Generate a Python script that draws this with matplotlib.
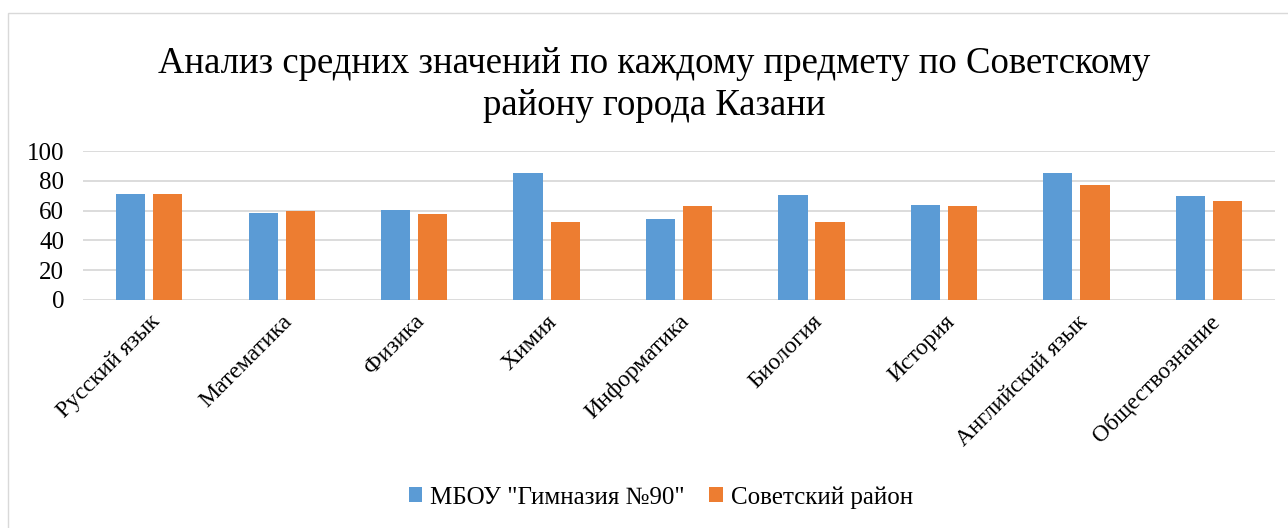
import numpy as np
import matplotlib.pyplot as plt
from matplotlib.patches import Rectangle

# data
subjects = ["Русский язык", "Математика", "Физика", "Химия", "Информатика",
            "Биология", "История", "Английский язык", "Обществознание"]
school = [71.0, 58.7, 60.4, 84.9, 54.6, 70.6, 63.8, 85.4, 70.1]
district = [70.8, 59.6, 57.5, 52.1, 62.9, 52.6, 62.9, 77.1, 66.1]
series_names = ['МБОУ "Гимназия №90"', "Советский район"]

plt.rcParams['font.family'] = ['Liberation Serif', 'DejaVu Serif']

fig = plt.figure(figsize=(12.88, 5.28), dpi=100)
ax = fig.add_axes([0.0644, 0.432, 0.9256, 0.282])

# chart frame
fig.patches.append(Rectangle((8 / 1288, -0.01), 1.2, 1 - 13 / 528 + 0.01,
                             transform=fig.transFigure, fill=False,
                             edgecolor="#d9d9d9", linewidth=1))

x = np.arange(len(subjects))
w = 0.22
ax.bar(x - 0.14, school, w, color="#5b9bd5", label=series_names[0], zorder=3)
ax.bar(x + 0.14, district, w, color="#ed7d31", label=series_names[1], zorder=3)

ax.set_xlim(-0.5, len(subjects) - 0.5)
ax.set_ylim(0, 100)
ax.set_yticks(range(0, 101, 20))
ax.grid(axis="y", color="#d9d9d9", linewidth=1.3, zorder=0)
for s in ax.spines.values():
    s.set_visible(False)
ax.tick_params(length=0, labelsize=18)
ax.tick_params(axis="y", pad=13.5)
ax.set_xticks(x)
ax.set_xticklabels(subjects, rotation=45, ha="right", rotation_mode="anchor", fontsize=17)
ax.tick_params(axis="x", pad=8)

fig.text(0.508, 0.84, "Анализ средних значений по каждому предмету по Советскому\nрайону города Казани",
         ha="center", va="center", fontsize=26.5, linespacing=1.3)

fig.legend(loc="center", bbox_to_anchor=(0.513, 0.058), ncol=2, frameon=False,
           fontsize=18, handlelength=0.55, handleheight=0.55, columnspacing=1.0,
           handletextpad=0.3)

fig.savefig("out.png", dpi=100)
